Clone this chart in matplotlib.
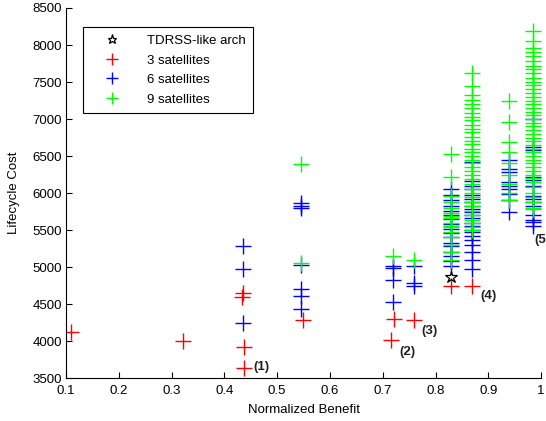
import matplotlib
matplotlib.use("Agg")
import matplotlib.pyplot as plt

plt.rcParams['font.family'] = ['Liberation Sans', 'DejaVu Sans']

# TDRSS-like architecture
star_x = [0.83]
star_y = [4870]

# 3 satellites
red_x = [0.11, 0.322, 0.435, 0.433, 0.437, 0.437, 0.548, 0.715, 0.722, 0.76, 0.83, 0.87]
red_y = [4120, 4000, 4650, 4600, 3920, 3640, 4290, 4020, 4300, 4280, 4740, 4740]

# 6 satellites
blue_x = ([0.435] * 3 + [0.545] * 7 + [0.72] * 4 + [0.76] * 3 + [0.83] * 17
          + [0.87] * 22 + [0.94] * 9 + [0.985] * 14)
blue_y = ([5280, 4980, 4250]
          + [5870, 5820, 5800, 5030, 4700, 4610, 4430]
          + [5010, 4990, 4820, 4530]
          + [5020, 4780, 4740]
          + [6050, 5980, 5900, 5830, 5760, 5700, 5650, 5580, 5520, 5460, 5400,
             5330, 5280, 5200, 5150, 5080, 5010]
          + [6420, 6160, 6100, 6050, 5980, 5920, 5880, 5830, 5780, 5740, 5700,
             5660, 5600, 5560, 5500, 5470, 5420, 5360, 5300, 5200, 5100, 4980]
          + [6440, 6330, 6280, 6150, 6100, 6050, 5990, 5900, 5740]
          + [7000, 6620, 6580, 6220, 6180, 6100, 5960, 5920, 5880, 5820, 5700,
             5640, 5610, 5560])

# 9 satellites
green_x = ([0.545] * 2 + [0.72] + [0.76] + [0.83] * 16 + [0.87] * 36
           + [0.94] * 9 + [0.985] * 44)
green_y = ([6390, 5060]
           + [5150]
           + [5090]
           + [6530, 6220, 5960, 5880, 5800, 5730, 5690, 5660, 5600, 5550, 5540,
              5470, 5400, 5300, 5200, 5100]
           + [7620, 7450, 7320, 7260, 7200, 7150, 7080, 7030, 6980, 6920, 6870,
              6820, 6760, 6700, 6660, 6600, 6550, 6500, 6450, 6400, 6350, 6300,
              6250, 6190, 6120, 6060, 6000, 5940, 5880, 5820, 5760, 5700, 5640,
              5600, 5540, 5500]
           + [7250, 6960, 6690, 6560, 6400, 6250, 6120, 6000, 5900]
           + [8190, 8050, 7960, 7900, 7850, 7780, 7720, 7680, 7620, 7560, 7500,
              7460, 7400, 7350, 7300, 7250, 7200, 7150, 7100, 7050, 7000, 6950,
              6900, 6850, 6800, 6750, 6700, 6650, 6600, 6550, 6500, 6450, 6400,
              6350, 6300, 6250, 6200, 6150, 6080, 6000, 5950, 5880, 5800, 5780])

labels = ['(1)', '(2)', '(3)', '(4)', '(5)']
label_x = [0.455, 0.731, 0.773, 0.885, 0.987]
label_y = [3650, 3850, 4140, 4610, 5370]

fig = plt.figure(figsize=(5.46, 4.21), dpi=100)
ax = fig.add_axes([0.121, 0.102, 0.870, 0.879])

ms = 11
mew = 1.0
h_star, = ax.plot(star_x, star_y, linestyle='none', marker='*', markersize=9,
                  markerfacecolor='none', markeredgecolor='black',
                  markeredgewidth=0.9, zorder=5, label='TDRSS-like arch')
h_red, = ax.plot(red_x, red_y, linestyle='none', marker='+', markersize=ms,
                 markeredgewidth=mew, color='#ff0000', label='3 satellites')
h_blue, = ax.plot(blue_x, blue_y, linestyle='none', marker='+', markersize=ms,
                  markeredgewidth=mew, color='#0000ff', label='6 satellites')
h_green, = ax.plot(green_x, green_y, linestyle='none', marker='+', markersize=ms,
                   markeredgewidth=mew, color='#00ff00', label='9 satellites')

for t, tx, ty in zip(labels, label_x, label_y):
    ax.text(tx, ty, t, fontsize=9.5, fontweight='bold', color='#222222',
            va='center', ha='left', clip_on=False)

ax.set_xlim(0.1, 1.0)
ax.set_ylim(3500, 8500)
ax.set_xticks([0.1, 0.2, 0.3, 0.4, 0.5, 0.6, 0.7, 0.8, 0.9, 1.0])
ax.set_xticklabels(['0.1', '0.2', '0.3', '0.4', '0.5', '0.6', '0.7', '0.8', '0.9', '1'])
ax.set_yticks(range(3500, 8501, 500))
ax.spines['top'].set_visible(False)
ax.spines['right'].set_visible(False)
ax.tick_params(direction='in', length=4, labelsize=9.5, pad=3)
ax.tick_params(axis='x', pad=5)
ax.set_xlabel('Normalized Benefit', fontsize=9.5, labelpad=5)
ax.set_ylabel('Lifecycle Cost', fontsize=9.5, labelpad=9)

leg = ax.legend(handles=[h_star, h_red, h_blue, h_green], loc='upper left',
                bbox_to_anchor=(0.036, 0.949), borderaxespad=0, fontsize=9.5,
                fancybox=False, framealpha=1, edgecolor='black',
                handlelength=3.2, handletextpad=1.0, labelspacing=0.55,
                borderpad=0.6, markerscale=0.75)
leg.get_frame().set_linewidth(0.8)

fig.savefig('out.png', dpi=100)
